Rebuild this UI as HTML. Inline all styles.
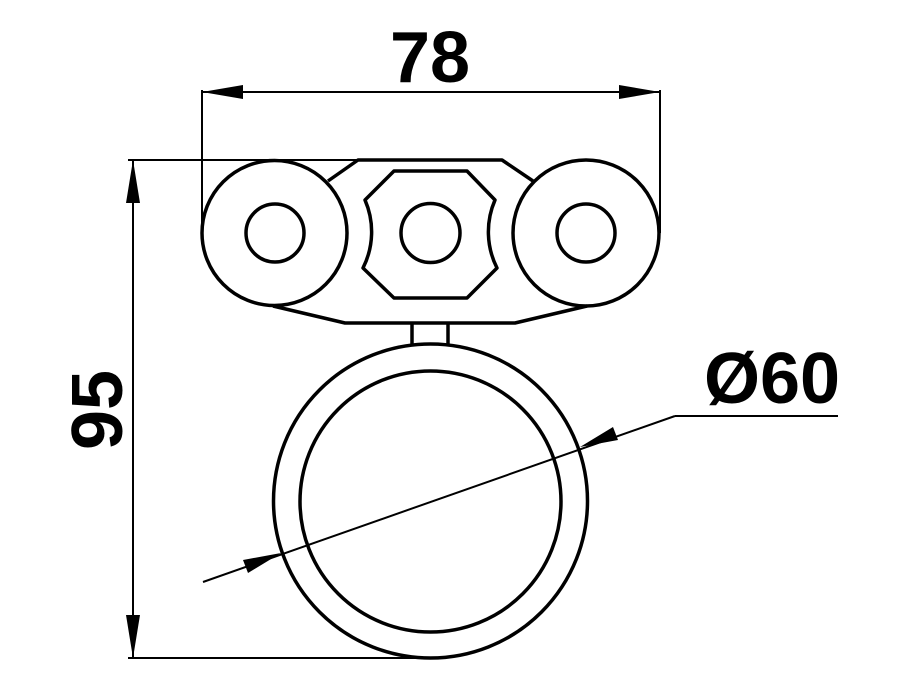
<!DOCTYPE html>
<html><head><style>html,body{margin:0;padding:0;background:#fff}svg{display:block}</style></head>
<body>
<svg width="900" height="700" viewBox="0 0 900 700" xmlns="http://www.w3.org/2000/svg">
<g fill="none" stroke="#000" stroke-width="2">
  <!-- dimension lines -->
  <line x1="202" y1="90" x2="202" y2="233"/>
  <line x1="660" y1="90" x2="660" y2="233"/>
  <line x1="202" y1="92" x2="660" y2="92"/>
  <line x1="128" y1="160" x2="360" y2="160"/>
  <line x1="128" y1="658" x2="430" y2="658"/>
  <line x1="133" y1="160" x2="133" y2="658"/>
  <line x1="203" y1="582" x2="675" y2="416"/>
  <line x1="675" y1="416" x2="838" y2="416"/>
</g>
<g fill="#000">
  <polygon points="202,92 243,85 243,99"/>
  <polygon points="660,92 619,85 619,99"/>
  <polygon points="133,160 126,203 140,203"/>
  <polygon points="133,658 126,615 140,615"/>
  <polygon points="281,553 243,560 248,573"/>
  <polygon points="580,447 618,440 613,427"/>
</g>
<g fill="none" stroke="#000" stroke-width="3.5" stroke-linejoin="round">
  <!-- plate -->
  <polyline points="328,181 358,160 502,160 533,181"/>
  <polyline points="273,306 345,323 515,323 587,306"/>
  <line x1="412" y1="323" x2="412" y2="344"/>
  <line x1="448" y1="323" x2="448" y2="344"/>
  <!-- wheels -->
  <circle cx="274.5" cy="233" r="72.5"/>
  <circle cx="275" cy="233" r="29"/>
  <circle cx="586" cy="233" r="73"/>
  <circle cx="586" cy="233" r="29"/>
  <circle cx="430.5" cy="233" r="29.5"/>
  <!-- octagon nut with concave sides -->
  <path d="M394,171 L467,171 L495,200 A80,80 0 0 0 497,268 L467,298 L394,298 L363,268 A80,80 0 0 0 365,200 Z"/>
  <!-- ring -->
  <circle cx="430.5" cy="501" r="157"/>
  <circle cx="430.5" cy="501.5" r="130.5"/>
</g>
<g font-family="Liberation Sans, sans-serif" font-weight="bold" font-size="72" fill="#000">
  <text x="430" y="82" text-anchor="middle">78</text>
  <text x="772" y="403" text-anchor="middle">Ø60</text>
  <text x="0" y="0" text-anchor="middle" transform="translate(122,410) rotate(-90)">95</text>
</g>
</svg>
</body></html>
